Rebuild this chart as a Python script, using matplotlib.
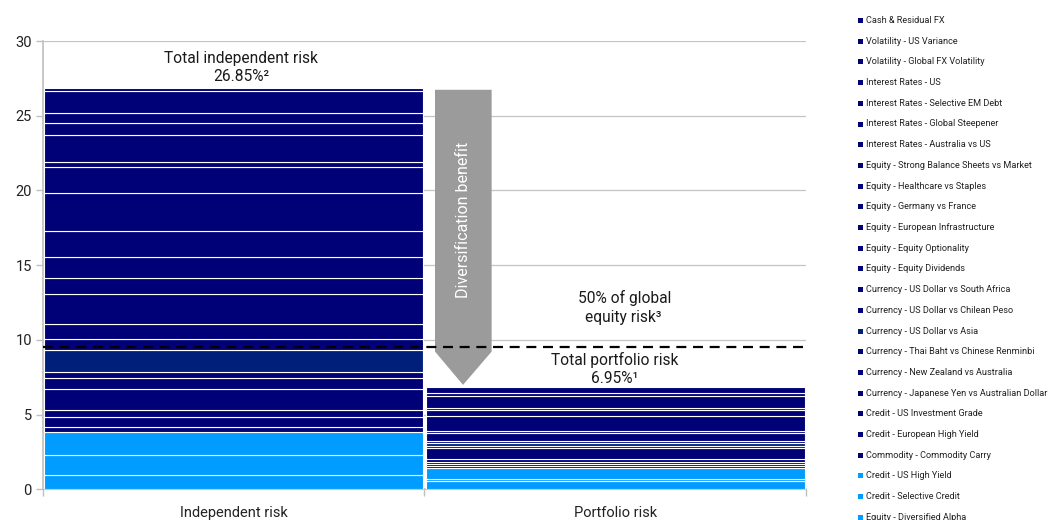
import matplotlib
matplotlib.use("Agg")
import matplotlib.pyplot as plt
import numpy as np
from matplotlib.patches import Polygon, Rectangle

plt.rcParams['font.family'] = ['Roboto', 'DejaVu Sans']

# ---------------- data ----------------
categories = ["Independent risk", "Portfolio risk"]

series_names = [  # bottom to top
    "Equity - Diversified Alpha",
    "Credit - Selective Credit",
    "Credit - US High Yield",
    "Commodity - Commodity Carry",
    "Credit - European High Yield",
    "Credit - US Investment Grade",
    "Currency - Japanese Yen vs Australian Dollar",
    "Currency - New Zealand vs Australia",
    "Currency - Thai Baht vs Chinese Renminbi",
    "Currency - US Dollar vs Asia",
    "Currency - US Dollar vs Chilean Peso",
    "Currency - US Dollar vs South Africa",
    "Equity - Equity Dividends",
    "Equity - Equity Optionality",
    "Equity - European Infrastructure",
    "Equity - Germany vs France",
    "Equity - Healthcare vs Staples",
    "Equity - Strong Balance Sheets vs Market",
    "Interest Rates - Australia vs US",
    "Interest Rates - Global Steepener",
    "Interest Rates - Selective EM Debt",
    "Interest Rates - US",
    "Volatility - Global FX Volatility",
    "Volatility - US Variance",
    "Cash & Residual FX",
]

independent_risk = [0.94, 1.36, 1.52, 0.33, 0.67, 0.51, 1.41, 0.73, 0.37, 1.49,
                    0.72, 1.02, 2.01, 1.05, 1.41, 1.76, 2.53, 1.71, 0.38, 1.79,
                    0.80, 0.67, 1.50, 0.17, 0.00]

portfolio_risk = [0.56, 0.11, 0.74, 0.15, 0.13, 0.16, 0.16, 0.74, 0.15, 0.18,
                  0.16, 0.55, 0.13, 1.01, 0.38, 0.16, 0.80, 0.16, 0.40, 0.00,
                  0.00, 0.00, 0.00, 0.00, 0.00]

series_colors = ["#009cff", "#009cff", "#009cff"] + ["#000077"] * 6 + ["#001f7a"] + ["#000077"] * 15

global_equity_half = 9.5
total_independent_label = "26.85%\u00b2"
total_portfolio_label = "6.95%\u00b9"

# ---------------- figure ----------------
fig = plt.figure(figsize=(10.51, 5.20), dpi=100)
ax = fig.add_axes([0.0409, 0.059, 0.726, 0.862])

x = np.arange(len(categories))
vals = np.array([independent_risk, portfolio_risk])  # shape (2, n)
bottom = np.zeros(len(categories))
for i, name in enumerate(series_names):
    h = vals[:, i]
    m = h > 0
    if m.any():
        ax.bar(x[m], h[m], bottom=bottom[m], width=0.994, color=series_colors[i],
               edgecolor="white", linewidth=0.8, zorder=3)
    bottom = bottom + h

ax.set_xlim(-0.5, 1.5)
ax.set_ylim(0, 30)
ax.set_yticks(np.arange(0, 31, 5))
ax.yaxis.grid(True, color="#c4c4c4", linewidth=0.9, zorder=0)
ax.set_axisbelow(True)

TXT = dict(color="#1a1a1a")

ax.set_xticks(x)
ax.set_xticklabels(categories, fontsize=10.5, color="#222222")
ax.set_xticks([-0.5, 0.5, 1.5], minor=True)
ax.tick_params(axis="x", which="major", length=0, pad=12)
ax.tick_params(axis="x", which="minor", length=5, color="#bfbfbf", width=1)
ax.tick_params(axis="y", length=5, color="#bfbfbf", width=1, labelsize=10.5,
               labelcolor="#222222", pad=3)
for s in ["top", "right"]:
    ax.spines[s].set_visible(False)
for s in ["left", "bottom"]:
    ax.spines[s].set_color("#bfbfbf")
    ax.spines[s].set_linewidth(1.2)

# dashed line: 50% of global equity risk
ax.axhline(global_equity_half, color="black", linewidth=1.6, dashes=(4.5, 3),
           zorder=5, clip_on=False)

# diversification arrow
arrow = Polygon([[0.5275, 26.74], [0.676, 26.74], [0.676, 9.22], [0.601, 6.99],
                 [0.5275, 9.22]], closed=True, facecolor="#9b9b9b",
                edgecolor="none", zorder=4)
ax.add_patch(arrow)
ax.text(0.601, 18.05, "Diversification benefit", rotation=90, color="white",
        fontsize=11.5, ha="center", va="center", zorder=6)

# annotations
ax.text(0.019, 28.82, "Total independent risk", ha="center", va="center",
        fontsize=11.2, **TXT)
ax.text(0.019, 27.6, total_independent_label, ha="center", va="center",
        fontsize=11.2, **TXT)
ax.text(1.0255, 12.83, "50% of global", ha="center", va="center",
        fontsize=11.2, **TXT)
ax.text(1.02, 11.49, "equity risk\u00b3", ha="center", va="center",
        fontsize=11.2, **TXT)
ax.text(0.999, 8.66, "Total portfolio risk", ha="center", va="center",
        fontsize=11.2, **TXT)
ax.text(0.999, 7.45, total_portfolio_label, ha="center", va="center",
        fontsize=11.2, **TXT)

# legend (top = last series)
W, H = 1051.0, 520.0
for k, i in enumerate(range(len(series_names) - 1, -1, -1)):
    ypx = 20.5 + k * 20.7
    fig.add_artist(Rectangle((858 / W, 1 - (ypx + 2.5) / H), 5 / W, 5 / H,
                             transform=fig.transFigure, facecolor=series_colors[i],
                             edgecolor="none"))
    fig.text(866 / W, 1 - ypx / H, series_names[i], fontsize=6.6,
             ha="left", va="center", color="#222222")

fig.savefig("out.png", dpi=100)
